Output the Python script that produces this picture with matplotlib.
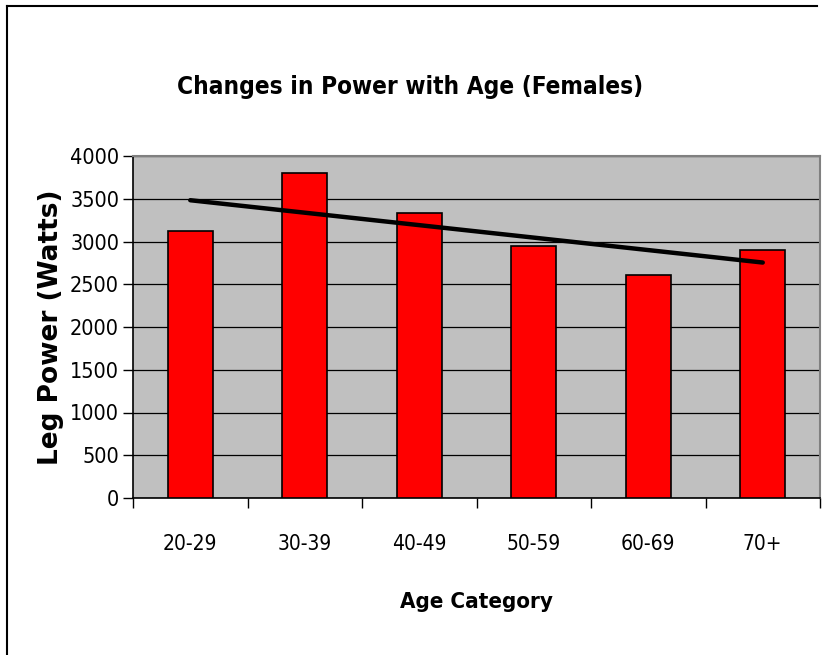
import numpy as np
import matplotlib
matplotlib.use('Agg')
import matplotlib.pyplot as plt
from matplotlib.lines import Line2D

plt.rcParams['font.family'] = ['DejaVu Sans']
plt.rcParams['font.stretch'] = 'condensed'

# data
categories = ['20-29', '30-39', '40-49', '50-59', '60-69', '70+']
leg_power = [3126, 3798, 3332, 2951, 2606, 2897]
yticks = [0, 500, 1000, 1500, 2000, 2500, 3000, 3500, 4000]

W, H = 826, 655
fig = plt.figure(figsize=(W / 100, H / 100), dpi=100)

# plot area in pixel coords of the reference
x0, x1, y0, y1 = 133, 820, 156, 498
ax = fig.add_axes([x0 / W, 1 - y1 / H, (x1 - x0) / W, (y1 - y0) / H])
ax.set_facecolor('#c0c0c0')

x = np.arange(len(categories))
ax.bar(x, leg_power, width=0.39, color='#ff0000', edgecolor='black', linewidth=1.2, zorder=3)

# linear trend line
k, b = np.polyfit(x, leg_power, 1)
ax.plot(x, k * x + b, color='black', linewidth=3.2, solid_capstyle='round', zorder=4)

ax.set_xlim(-0.5, len(categories) - 0.5)
ax.set_ylim(0, 4000)
ax.set_yticks(yticks)
ax.set_yticklabels([str(v) for v in yticks], fontsize=15.5)
ax.grid(axis='y', color='black', linewidth=0.9, zorder=1)
ax.set_axisbelow(True)

# category ticks sit between bars, labels at centres
ax.set_xticks(np.arange(len(categories) + 1) - 0.5)
ax.set_xticklabels([])
ax.set_xticks(x, minor=True)
ax.set_xticklabels(categories, minor=True, fontsize=15)
ax.tick_params(axis='x', which='minor', length=0, pad=26)
ax.tick_params(axis='x', which='major', length=7, width=1, direction='out')
ax.tick_params(axis='y', length=7, width=1, direction='out', pad=3)

for s in ['left', 'bottom']:
    ax.spines[s].set_color('black')
    ax.spines[s].set_linewidth(1.2)
for s in ['top', 'right']:
    ax.spines[s].set_color('#808080')
    ax.spines[s].set_linewidth(1.5)

ax.set_xlabel('Age Category', fontsize=16, fontweight='bold', labelpad=27)
ax.set_ylabel('Leg Power (Watts)', fontsize=19, fontweight='bold', labelpad=4,
              fontstretch='normal')
fig.text(410 / W, 1 - 87 / H, 'Changes in Power with Age (Females)', ha='center', va='center',
         fontsize=17.5, fontweight='bold')

# chart border (cropped on right/bottom)
fig.add_artist(Line2D([7 / W, 817 / W], [1 - 6 / H, 1 - 6 / H], color='black', linewidth=1.5))
fig.add_artist(Line2D([7 / W, 7 / W], [1 - 6 / H, 0], color='black', linewidth=1.5))

fig.savefig('out.png', dpi=100)
